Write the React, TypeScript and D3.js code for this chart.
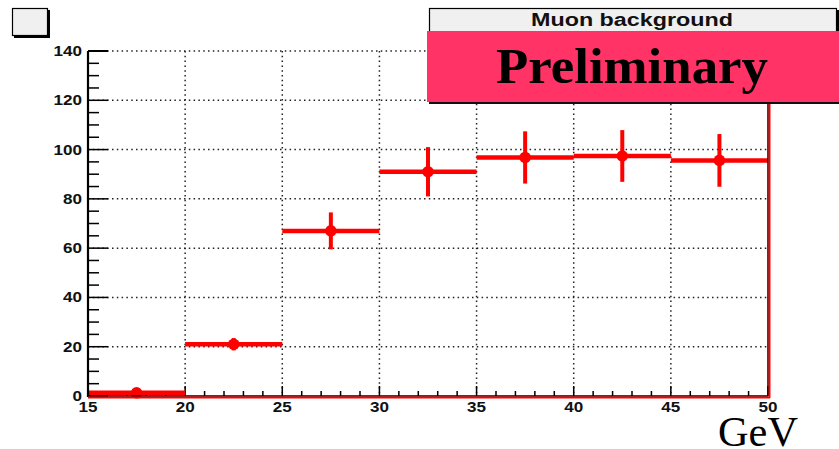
import React from "react";
import * as d3 from "d3";

const binLow = [15, 20, 25, 30, 35, 40, 45];
const binHigh = [20, 25, 30, 35, 40, 45, 50];
const values = [1.3, 21, 67, 91, 96.8, 97.4, 95.6];
const errors = [1.2, 2.5, 7.5, 10, 10.6, 10.5, 10.7];
const yTicks = [0, 20, 40, 60, 80, 100, 120, 140];
const xTicks = [15, 20, 25, 30, 35, 40, 45, 50];
const titleText = "Muon background";
const stampText = "Preliminary";
const xUnit = "GeV";

const W = 839;
const H = 449;
const L = 88, R = 768, T = 51, B = 396;

export default function App() {
  const x = d3.scaleLinear().domain([15, 50]).range([L, R]);
  const y = d3.scaleLinear().domain([0, 140]).range([B, T]);
  const yMinor = d3.range(0, 140.01, 5);
  const xMinor = d3.range(15, 50.01, 1);
  const sans = "'Liberation Sans', Arial, Helvetica, sans-serif";
  const serif = "'Liberation Serif', 'Times New Roman', Times, serif";
  const dot = "1.5 3.3";
  const red = "#ff0000";

  return (
    <svg width={W} height={H} style={{ position: "absolute", left: 0, top: 0, display: "block", background: "#fff" }}>
      {/* grid */}
      {xTicks.filter((t) => t > 15 && t < 50).map((t) => (
        <line key={"gx" + t} x1={x(t)} x2={x(t)} y1={T} y2={B} stroke="#222" strokeWidth={1.5} strokeDasharray={dot} />
      ))}
      {yTicks.filter((t) => t > 0).map((t) => (
        <line key={"gy" + t} x1={L} x2={R} y1={y(t)} y2={y(t)} stroke="#222" strokeWidth={1.5} strokeDasharray={dot} />
      ))}

      {/* y ticks */}
      {yMinor.map((t) => (
        <line key={"ym" + t} x1={L} x2={L + (t % 20 === 0 ? 20 : 11)} y1={y(t)} y2={y(t)} stroke="#000" strokeWidth={1.5} />
      ))}
      {/* x ticks */}
      {xMinor.map((t) => (
        <line key={"xm" + t} x1={x(t)} x2={x(t)} y1={B} y2={B - (t % 5 === 0 ? 10 : 5)} stroke="#000" strokeWidth={1.5} />
      ))}

      {/* histogram */}
      {values.map((v, i) => {
        const cx = x((binLow[i] + binHigh[i]) / 2);
        return (
          <g key={"b" + i}>
            <line x1={x(binLow[i])} x2={x(binHigh[i])} y1={y(v)} y2={y(v)} stroke={red} strokeWidth={4.5} />
            <line x1={cx} x2={cx} y1={y(v + errors[i])} y2={y(Math.max(0, v - errors[i]))} stroke={red} strokeWidth={4} />
            <circle cx={cx} cy={y(v)} r={5.8} fill={red} />
          </g>
        );
      })}

      {/* frame */}
      <line x1={L} x2={L} y1={T} y2={B + 1} stroke="#000" strokeWidth={2.2} />
      <line x1={L} x2={R} y1={B} y2={B} stroke="#000" strokeWidth={1.5} />
      <line x1={L} x2={R + 2} y1={B + 1.5} y2={B + 1.5} stroke={red} strokeWidth={2} />
      <line x1={R} x2={R} y1={T} y2={B} stroke="#000" strokeWidth={1.5} />
      <line x1={R + 1.5} x2={R + 1.5} y1={T} y2={B + 2} stroke={red} strokeWidth={2} />
      <line x1={L} x2={L + 20} y1={T} y2={T} stroke="#000" strokeWidth={2} />

      {/* y tick labels */}
      {yTicks.map((t) => (
        <text key={"yl" + t} transform={`translate(82,${y(t) + 5}) scale(1.22,1)`} textAnchor="end" fontFamily={sans} fontWeight="bold" fontSize={14} fill="#111">
          {t}
        </text>
      ))}
      {/* x tick labels */}
      {xTicks.map((t) => (
        <text key={"xl" + t} transform={`translate(${x(t)},412) scale(1.22,1)`} textAnchor="middle" fontFamily={sans} fontWeight="bold" fontSize={14} fill="#111">
          {t}
        </text>
      ))}

      {/* x unit */}
      <text x={718} y={446} fontFamily={serif} fontSize={42} fill="#000" textLength={80} lengthAdjust="spacingAndGlyphs">
        {xUnit}
      </text>

      {/* top-left box */}
      <rect x={14} y={10} width={36} height={28} fill="#000" />
      <rect x={12.5} y={8.5} width={35} height={27} fill="#f0f0f0" stroke="#000" strokeWidth={1.2} />

      {/* title box */}
      <rect x={431} y={10} width={410} height={26} fill="#000" />
      <rect x={429.5} y={8.5} width={407} height={25} fill="#f0f0f0" stroke="#000" strokeWidth={1.2} />
      <text x={632} y={26} textAnchor="middle" fontFamily={sans} fontWeight="bold" fontSize={18} fill="#111" textLength={202} lengthAdjust="spacingAndGlyphs">
        {titleText}
      </text>

      {/* preliminary stamp */}
      <rect x={429} y={33} width={412} height={71} fill="#111" />
      <rect x={427} y={31} width={412} height={71} fill="#ff3366" />
      <text x={632} y={83} textAnchor="middle" fontFamily={serif} fontWeight="bold" fontSize={50} fill="#000" textLength={272} lengthAdjust="spacingAndGlyphs">
        {stampText}
      </text>
    </svg>
  );
}
